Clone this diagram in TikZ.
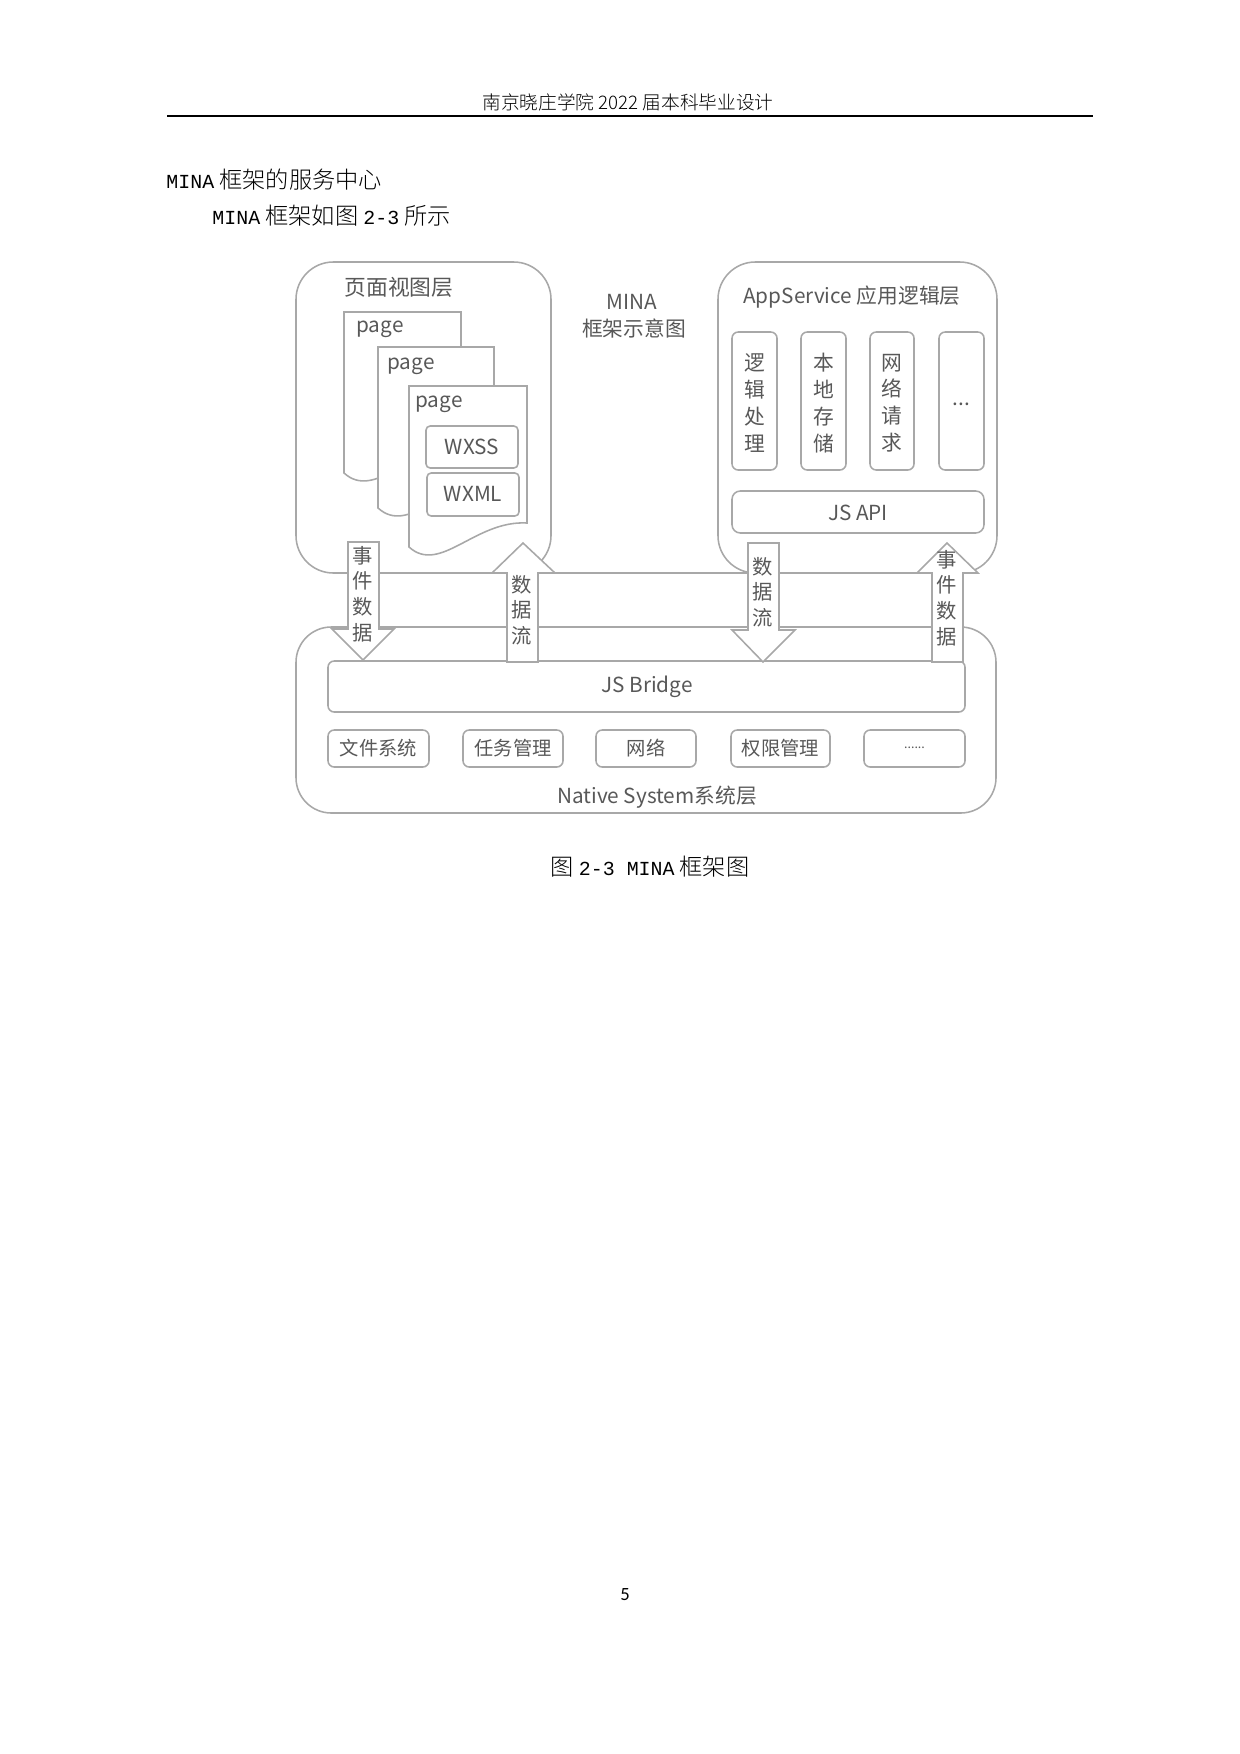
\documentclass[tikz,border=0pt]{standalone}
\usepackage{fontspec}
\setmainfont{Noto Sans CJK SC}
\newfontfamily\cjk{Noto Sans CJK SC}
\newfontfamily\cjkl{Noto Sans CJK SC Light}
\newfontfamily\lmono{Liberation Mono}
\newfontfamily\carl{Carlito}
\definecolor{lgray}{RGB}{168,168,168}
\definecolor{tgray}{RGB}{88,88,88}
\newcommand{\lat}[1]{{\lmono\fontsize{9.6pt}{11pt}\selectfont #1}}
\begin{document}
\begin{tikzpicture}[x=0.16935mm, y=-0.16935mm,
  ln/.style={draw=lgray, line width=0.75pt},
  lbl/.style={text=tgray, inner sep=0pt, font=\cjk\fontsize{10pt}{12.9pt}\selectfont},
  sml/.style={text=tgray, inner sep=0pt, font=\cjk\fontsize{9.3pt}{11pt}\selectfont},
  vlbl/.style={text=tgray, inner sep=0pt, align=center, font=\cjk\fontsize{10pt}{12.9pt}\selectfont},
  albl/.style={text=tgray, inner sep=0pt, align=center, font=\cjk\fontsize{9.8pt}{12.4pt}\selectfont},
  body/.style={inner sep=0pt, font=\cjkl\fontsize{11.2pt}{13pt}\selectfont},
  blockarrow/.style={ln, fill=white},
  pagebox/.style={ln, fill=white}]
\useasboundingbox (0,0) rectangle (1240,1754);

% header
\node[body, font=\cjkl\fontsize{9pt}{11pt}\selectfont] (hdr) at (628,102) {南京晓庄学院 2022 届本科毕业设计};
\coordinate (hl) at (167,116);
\coordinate (hr) at (1093,116);
\draw[line width=1pt] (hl) -- (hr);

% body text
\node[body, anchor=west] (line1) at (166,180) {\lat{MINA} 框架的服务中心};
\node[body, anchor=west] (line2) at (212,216) {\lat{MINA} 框架如图 \lat{2-3} 所示};

% main boxes
\draw[ln, rounded corners=18pt] (296,262) rectangle (551,573);
\draw[ln, rounded corners=18pt] (718,262) rectangle (997,573);
\coordinate (linkl) at (515,573);
\coordinate (linkr) at (756,573);
\draw[ln] (linkl) -- (linkr);
\draw[ln, rounded corners=17pt] (296,627) rectangle (996,813);

% titles
\node[lbl, font=\cjk\fontsize{10.5pt}{12pt}\selectfont] (viewtitle) at (399,287) {页面视图层};
\node[lbl, font=\cjk\fontsize{10pt}{12pt}\selectfont] (apptitle) at (852,297) {AppService 应用逻辑层};
\node[lbl] (mina) at (632,302) {MINA};
\node[lbl] (minasub) at (634,329) {框架示意图};

% pages
\draw[pagebox] (344,473) -- (344,312) -- (461,312) -- (461,449) .. controls (410,446) and (375,501) .. (344,473) -- cycle;
\node[lbl, anchor=west] (pg1) at (356,329) {page};
\draw[pagebox] (378,508) -- (378,347) -- (494,347) -- (494,484) .. controls (443,481) and (409,536) .. (378,508) -- cycle;
\node[lbl, anchor=west] (pg2) at (387,366) {page};
\draw[pagebox] (409,547) -- (409,386) -- (527,386) -- (527,523) .. controls (475,520) and (440,575) .. (409,547) -- cycle;
\node[lbl, anchor=west] (pg3) at (415,404) {page};
\draw[ln, rounded corners=2pt] (426,426) rectangle (518,468);
\node[lbl] (wxss) at (472,447) {WXSS};
\draw[ln, rounded corners=2pt] (427,473) rectangle (519,516);
\node[lbl] (wxml) at (473,494) {WXML};

% app service boxes
\draw[ln, rounded corners=3pt] (732,332) rectangle (777,470);
\node[vlbl] (logic) at (754.5,403) {逻\\辑\\处\\理};
\draw[ln, rounded corners=3pt] (801,332) rectangle (846,470);
\node[vlbl] (store) at (823.5,403) {本\\地\\存\\储};
\draw[ln, rounded corners=3pt] (870,332) rectangle (914,470);
\node[vlbl] (netreq) at (892,403) {网\\络\\请\\求};
\draw[ln, rounded corners=3pt] (939,332) rectangle (984,470);
\node[lbl] (more1) at (961.5,404) {...};
\draw[ln, rounded corners=4pt] (732,491) rectangle (984,533);
\node[lbl] (jsapi) at (858,513) {JS API};

% native system
\draw[ln, rounded corners=3pt] (328,661) rectangle (965,712);
\node[lbl] (bridge) at (647,687) {JS Bridge};
\draw[ln, rounded corners=3pt] (328,730) rectangle (429,767);
\node[sml] (fs) at (378.5,748.5) {文件系统};
\draw[ln, rounded corners=3pt] (463,730) rectangle (563,767);
\node[sml] (task) at (513,748.5) {任务管理};
\draw[ln, rounded corners=3pt] (596,730) rectangle (696,767);
\node[sml] (net) at (646,748.5) {网络};
\draw[ln, rounded corners=3pt] (731,730) rectangle (830,767);
\node[sml] (perm) at (780.5,748.5) {权限管理};
\draw[ln, rounded corners=3pt] (864,730) rectangle (965,767);
\node[sml, font=\cjk\fontsize{6pt}{8pt}\selectfont] (more2) at (914.5,748) {......};
\node[lbl] (native) at (657,797) {Native System系统层};

% block arrows
\draw[blockarrow] (348,542) -- (379,542) -- (379,629) -- (394,629) -- (363,660) -- (332,629) -- (348,629) -- cycle;
\node[albl] (ev1) at (363,594) {事\\件\\数\\据};
\draw[blockarrow] (507,662) -- (538,662) -- (538,573) -- (555,573) -- (523,543) -- (492,573) -- (507,573) -- cycle;
\node[albl] (df1) at (522,610) {数\\据\\流};
\draw[blockarrow] (748,543) -- (779,543) -- (779,630) -- (795,630) -- (763,662) -- (732,630) -- (748,630) -- cycle;
\node[albl] (df2) at (763,592) {数\\据\\流};
\draw[blockarrow] (932,662) -- (963,662) -- (963,573) -- (978,573) -- (947,543) -- (917,573) -- (932,573) -- cycle;
\node[albl] (ev2) at (947,598) {事\\件\\数\\据};

% caption and page number
\node[body] (cap) at (650,867) {图 \lat{2-3 MINA} 框架图};
\node[inner sep=0pt, font=\carl\fontsize{9pt}{11pt}\selectfont] (pnum) at (625,1595) {5};
\end{tikzpicture}
\end{document}
